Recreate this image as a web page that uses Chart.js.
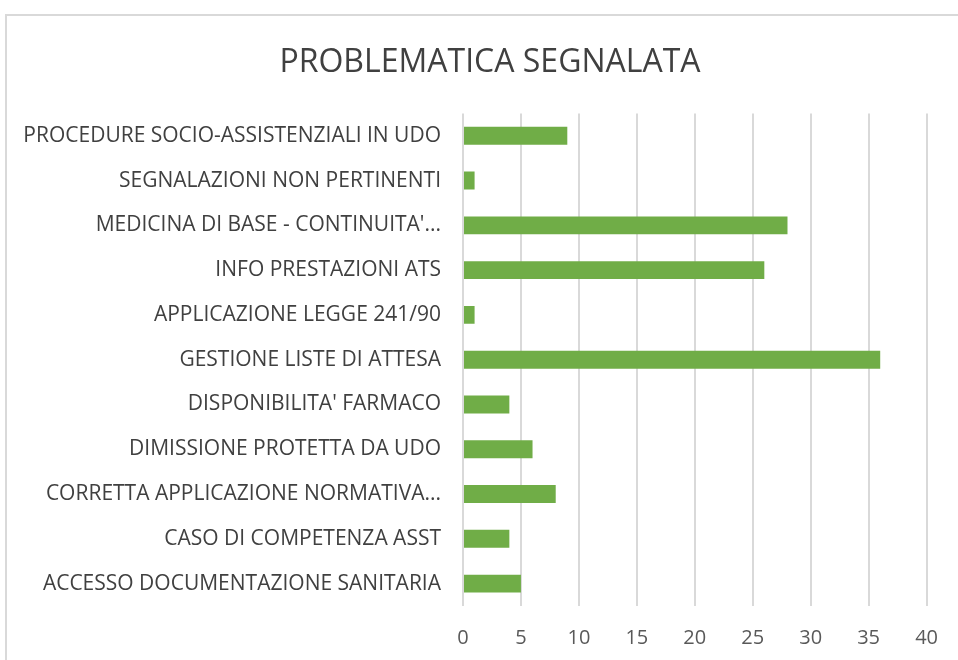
<!DOCTYPE html>
<html>
<head>
<meta charset="utf-8">
<script src="https://cdn.jsdelivr.net/npm/chart.js@4"></script>
<style>
  html,body{margin:0;padding:0;background:#fff;overflow:hidden;}
  #frame{position:absolute;left:5px;top:14px;width:1000px;height:700px;border:2px solid #d9d9d9;box-sizing:border-box;}
  #wrap{position:absolute;left:0;top:0;width:958px;height:660px;}
</style>
</head>
<body>
<div id="frame"></div>
<div id="wrap"><canvas id="c" width="958" height="660"></canvas></div>
<script>
const chartTitle = "PROBLEMATICA SEGNALATA";
const categories = [
  "PROCEDURE SOCIO-ASSISTENZIALI IN UDO",
  "SEGNALAZIONI NON PERTINENTI",
  "MEDICINA DI BASE - CONTINUITA'...",
  "INFO PRESTAZIONI ATS",
  "APPLICAZIONE LEGGE 241/90",
  "GESTIONE LISTE DI ATTESA",
  "DISPONIBILITA' FARMACO",
  "DIMISSIONE PROTETTA DA UDO",
  "CORRETTA APPLICAZIONE NORMATIVA...",
  "CASO DI COMPETENZA ASST",
  "ACCESSO DOCUMENTAZIONE SANITARIA"
];
const values = [9, 1, 28, 26, 1, 36, 4, 6, 8, 4, 5];
const axisMin = 0, axisMax = 40, axisStep = 5;

// let long category labels extend left of the axis box without being clipped
const unclipLabels = {
  id: 'unclipLabels',
  afterLayout(chart) { chart.scales.y.left = 0; }
};

new Chart(document.getElementById('c'), {
  type: 'bar',
  data: {
    labels: categories,
    datasets: [{
      data: values,
      backgroundColor: '#70AD47',
      borderWidth: 0,
      barPercentage: 0.4,
      categoryPercentage: 1
    }]
  },
  plugins: [unclipLabels],
  options: {
    indexAxis: 'y',
    responsive: false,
    animation: false,
    layout: { padding: { top: 30, left: 51, right: 29, bottom: 10 } },
    plugins: {
      legend: { display: false },
      tooltip: { enabled: false },
      title: {
        display: true,
        text: chartTitle,
        color: '#404040',
        font: { family: 'Open Sans', size: 32, weight: 'normal' },
        padding: { top: 14, bottom: 31 }
      }
    },
    scales: {
      x: {
        min: axisMin, max: axisMax,
        afterFit: (s) => { s.height = 44; },
        ticks: { stepSize: axisStep, color: '#595959', font: { family: 'Open Sans', size: 20 }, padding: 20 },
        grid: { color: '#d9d9d9', lineWidth: 2, drawTicks: false },
        border: { display: false }
      },
      y: {
        afterFit: (s) => { s.width = 412; s.paddingTop = 0; s.paddingBottom = 0; },
        ticks: { color: '#404040', font: { family: 'Open Sans', size: 21 }, padding: 22, autoSkip: false },
        grid: { display: false, drawTicks: false },
        border: { display: false }
      }
    }
  }
});
</script>
</body>
</html>
